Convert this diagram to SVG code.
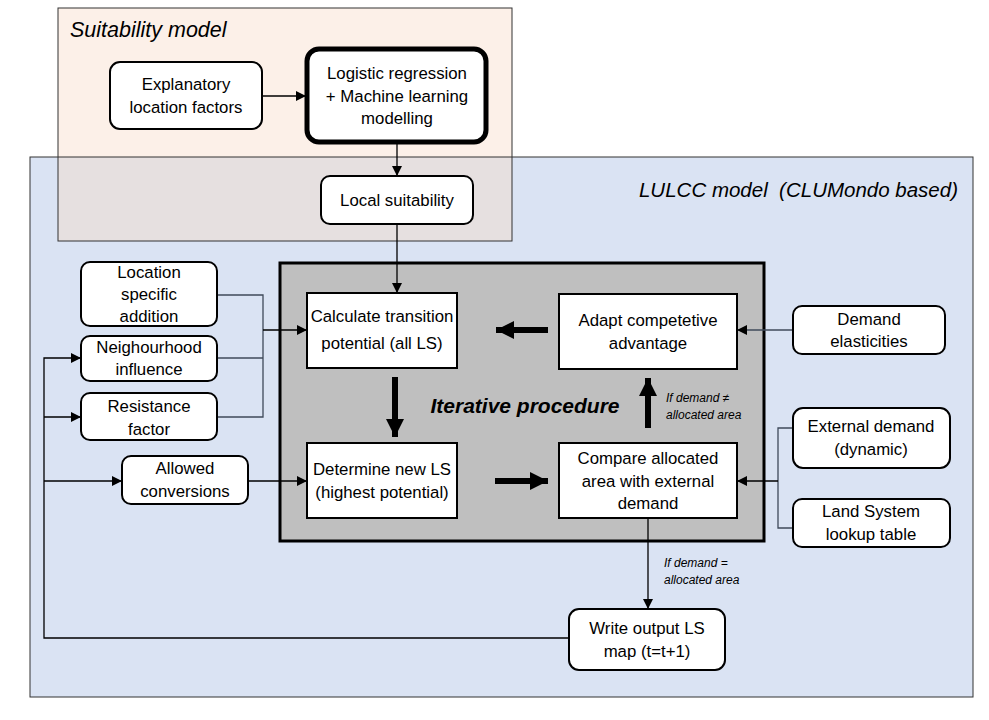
<svg xmlns="http://www.w3.org/2000/svg" width="989" height="720" viewBox="0 0 989 720">
<defs>
<style>
text{font-family:"Liberation Sans",Arial,sans-serif;font-size:16.8px;fill:#000;text-anchor:middle}
.rn{fill:#fff;stroke:#000;stroke-width:2}
.sq{fill:#fff;stroke:#000;stroke-width:2}
.ln{fill:none;stroke:#000;stroke-width:1.3}
.lg{fill:none;stroke:#3f4a5a;stroke-width:1.3}
.thick{fill:none;stroke:#000;stroke-width:6}
.title{font-style:italic;font-size:21.5px;text-anchor:start}
.small{font-style:italic;font-size:12px;text-anchor:start}
</style>
<marker id="ah" viewBox="0 0 10 10" refX="10" refY="5" markerWidth="10" markerHeight="10" markerUnits="userSpaceOnUse" orient="auto"><path d="M0,0 L10,5 L0,10 z" fill="#000"/></marker>
<marker id="big" viewBox="0 0 10 10" refX="10" refY="5" markerWidth="18" markerHeight="18" markerUnits="userSpaceOnUse" orient="auto"><path d="M0,0 L10,5 L0,10 z" fill="#000"/></marker>
</defs>
<rect width="989" height="720" fill="#fff"/>
<g id="lulcc-bg">
<rect x="30" y="157" width="943" height="540" fill="#dae3f3"/>
</g>
<g id="suitability-bg">
<rect x="58" y="8" width="454" height="233" fill="#fcf0e8"/>
<rect x="58" y="157" width="454" height="84" fill="#e6e0e0"/>
</g>
<g id="frames">
<rect x="30" y="157" width="943" height="540" fill="none" stroke="#333" stroke-width="1"/>
<rect x="58" y="8" width="454" height="233" fill="none" stroke="#333" stroke-width="1"/>
<text class="title" x="70" y="37">Suitability model</text>
<text class="title" x="958" y="197" style="text-anchor:end;font-size:20.5px">LULCC model&#160; (CLUMondo based)</text>
</g>
<g id="iterative">
<rect x="280" y="263" width="484" height="278" fill="#bfbfbf" stroke="#000" stroke-width="3"/>
<text x="525" y="413" style="font-weight:bold;font-style:italic;font-size:21px">Iterative procedure</text>
<text class="small" x="666" y="402">If demand ≠</text>
<text class="small" x="666" y="419">allocated area</text>
</g>
<g id="connectors">
<line class="ln" x1="262" y1="96" x2="306" y2="96" marker-end="url(#ah)"/>
<line class="ln" x1="397" y1="143" x2="397" y2="176" marker-end="url(#ah)"/>
<line class="ln" x1="397" y1="224" x2="397" y2="293" marker-end="url(#ah)"/>
<polyline class="lg" points="217,295 263,295 263,417 217,417"/>
<line class="lg" x1="217" y1="358" x2="263" y2="358"/>
<line class="ln" x1="263" y1="330" x2="307" y2="330" marker-end="url(#ah)"/>
<line class="ln" x1="248" y1="481" x2="307" y2="481" marker-end="url(#ah)"/>
<polyline class="ln" points="569,638 44,638 44,358 81,358" marker-end="url(#ah)"/>
<line class="ln" x1="44" y1="417" x2="81" y2="417" marker-end="url(#ah)"/>
<line class="ln" x1="44" y1="481" x2="122" y2="481" marker-end="url(#ah)"/>
<line class="lg" x1="793" y1="330" x2="737" y2="330" marker-end="url(#ah)"/>
<polyline class="lg" points="793,428 778,428 778,528 793,528"/>
<line class="ln" x1="778" y1="481" x2="737" y2="481" marker-end="url(#ah)"/>
<line class="ln" x1="648" y1="518" x2="648" y2="609" marker-end="url(#ah)"/>
<line class="thick" x1="548" y1="330" x2="496" y2="330" marker-end="url(#big)"/>
<line class="thick" x1="395" y1="377" x2="395" y2="437" marker-end="url(#big)"/>
<line class="thick" x1="495" y1="481" x2="548" y2="481" marker-end="url(#big)"/>
<line class="thick" x1="648" y1="428" x2="648" y2="378" marker-end="url(#big)"/>
<text class="small" x="664" y="567">If demand =</text>
<text class="small" x="664" y="584">allocated area</text>
</g>
<g id="explanatory">
<rect class="rn" x="110" y="62" width="152" height="67" rx="10"/>
<text x="186" y="90">Explanatory</text>
<text x="186" y="113">location factors</text>
</g>
<g id="logistic">
<rect x="307" y="49" width="179" height="93" rx="12" fill="#fff" stroke="#000" stroke-width="5"/>
<text x="397" y="79">Logistic regression</text>
<text x="397" y="102">+ Machine learning</text>
<text x="397" y="124">modelling</text>
</g>
<g id="local-suitability">
<rect class="rn" x="321" y="176" width="152" height="48" rx="9"/>
<text x="397" y="206">Local suitability</text>
</g>
<g id="calc-transition">
<rect class="sq" x="307" y="293" width="150" height="75"/>
<text x="382" y="322">Calculate transition</text>
<text x="382" y="349">potential (all LS)</text>
</g>
<g id="adapt">
<rect class="sq" x="559" y="294" width="178" height="75"/>
<text x="648" y="326">Adapt competetive</text>
<text x="648" y="349">advantage</text>
</g>
<g id="determine">
<rect class="sq" x="307" y="443" width="150" height="75"/>
<text x="382" y="475">Determine new LS</text>
<text x="382" y="498">(highest potential)</text>
</g>
<g id="compare">
<rect class="sq" x="559" y="443" width="178" height="75"/>
<text x="648" y="464">Compare allocated</text>
<text x="648" y="487">area with external</text>
<text x="648" y="509">demand</text>
</g>
<g id="location-specific">
<rect class="rn" x="81" y="262" width="136" height="64" rx="9"/>
<text x="149" y="278">Location</text>
<text x="149" y="300">specific</text>
<text x="149" y="322">addition</text>
</g>
<g id="neighbourhood">
<rect class="rn" x="81" y="336" width="136" height="45" rx="9"/>
<text x="149" y="353">Neighourhood</text>
<text x="149" y="375">influence</text>
</g>
<g id="resistance">
<rect class="rn" x="81" y="393" width="136" height="47" rx="9"/>
<text x="149" y="412">Resistance</text>
<text x="149" y="435">factor</text>
</g>
<g id="allowed">
<rect class="rn" x="122" y="456" width="126" height="48" rx="9"/>
<text x="185" y="474">Allowed</text>
<text x="185" y="497">conversions</text>
</g>
<g id="demand-elasticities">
<rect class="rn" x="793" y="306" width="152" height="48" rx="9"/>
<text x="869" y="325">Demand</text>
<text x="869" y="347">elasticities</text>
</g>
<g id="external-demand">
<rect class="rn" x="793" y="408" width="157" height="60" rx="10"/>
<text x="871" y="432">External demand</text>
<text x="871" y="455">(dynamic)</text>
</g>
<g id="lookup">
<rect class="rn" x="793" y="499" width="157" height="48" rx="9"/>
<text x="871" y="517">Land System</text>
<text x="871" y="540">lookup table</text>
</g>
<g id="write-output">
<rect class="rn" x="569" y="609" width="156" height="61" rx="10"/>
<text x="647" y="634">Write output LS</text>
<text x="647" y="657">map (t=t+1)</text>
</g>
</svg>
